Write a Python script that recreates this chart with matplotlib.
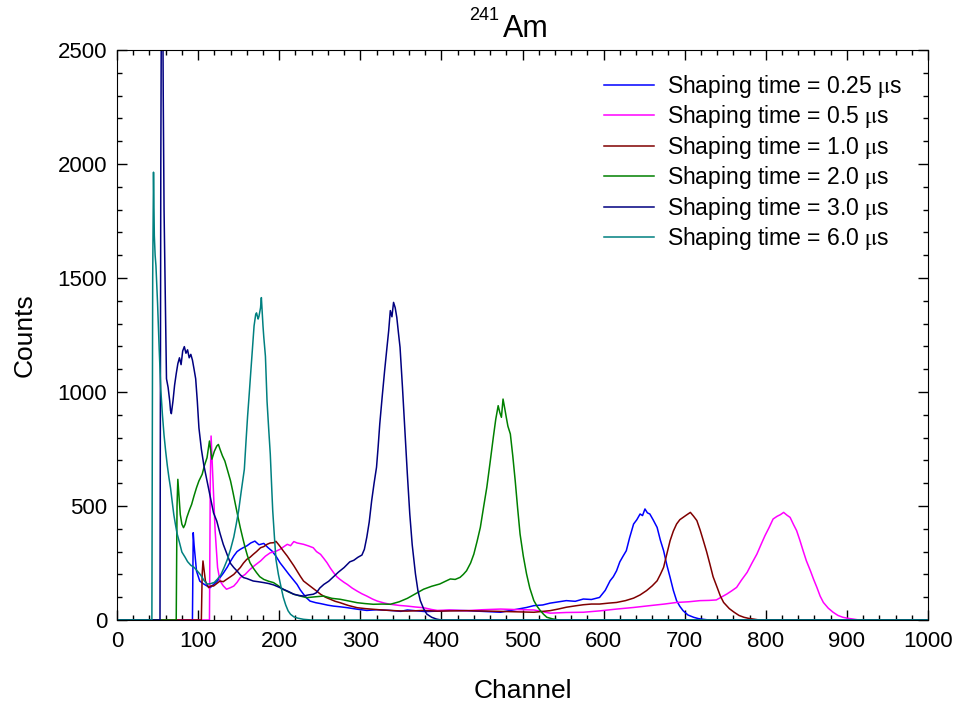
import matplotlib
matplotlib.use("Agg")
import matplotlib.pyplot as plt
from matplotlib.ticker import MultipleLocator

# ----------------------------
# Spectrum data
# ----------------------------

ch_025 = [0, 93, 94, 95, 98, 102, 106, 111, 115, 119, 123, 127, 131, 136, 140, 144, 148, 152, 156, 160,
          165, 170, 175, 181, 186, 191, 196, 201, 206, 212, 217, 222, 226, 230, 234, 238, 245, 251, 260, 267,
          275, 284, 295, 308, 320, 337, 350, 358, 370, 380, 395, 410, 431, 450, 473, 490, 505, 514, 525, 534,
          545, 554, 565, 575, 585, 595, 602, 608, 612, 616, 620, 624, 628, 632, 637, 641, 645, 648, 651, 654,
          657, 661, 666, 670, 674, 678, 682, 686, 690, 694, 698, 704, 711, 717, 723, 730, 1000]
cnt_025 = [0, 0, 383, 330, 215, 171, 160, 149, 142, 156, 168, 186, 205, 232, 258, 281, 300, 310, 318, 325,
           338, 346, 330, 336, 318, 303, 280, 251, 228, 200, 178, 156, 132, 113, 96, 83, 76, 72, 65, 61,
           58, 54, 48, 42, 45, 42, 38, 44, 40, 37, 39, 42, 41, 38, 34, 45, 55, 63, 66, 74,
           80, 85, 82, 92, 90, 99, 130, 172, 190, 216, 255, 280, 304, 360, 421, 440, 465, 458, 487, 470,
           465, 440, 406, 350, 304, 241, 187, 130, 85, 60, 41, 22, 12, 6, 3, 0, 0]

ch_05 = [0, 114, 115, 116, 118, 121, 124, 127, 131, 135, 140, 144, 148, 152, 158, 164, 170, 177, 183, 189,
         195, 201, 205, 210, 214, 218, 222, 226, 230, 236, 242, 246, 251, 255, 259, 263, 267, 271, 275, 280,
         284, 290, 296, 302, 308, 315, 321, 330, 337, 348, 358, 368, 378, 388, 395, 410, 431, 450, 473, 490,
         514, 534, 554, 575, 595, 616, 637, 657, 675, 690, 705, 719, 730, 739, 745, 752, 758, 764, 770, 777,
         783, 789, 794, 799, 804, 809, 814, 818, 822, 826, 830, 834, 838, 842, 846, 850, 855, 859, 863, 867,
         871, 877, 883, 889, 895, 902, 908, 915, 1000]
cnt_05 = [0, 0, 600, 807, 639, 390, 230, 171, 150, 135, 142, 149, 165, 186, 200, 222, 240, 259, 280, 295,
          300, 310, 320, 332, 326, 344, 338, 335, 332, 325, 317, 300, 288, 270, 251, 228, 208, 190, 178, 165,
          156, 140, 127, 115, 105, 92, 83, 74, 69, 64, 61, 57, 54, 46, 42, 44, 41, 45, 48, 46,
          44, 30, 33, 34, 40, 48, 55, 63, 70, 77, 80, 85, 86, 88, 100, 114, 128, 143, 175, 209,
          250, 289, 330, 370, 405, 443, 455, 462, 472, 460, 450, 420, 392, 350, 304, 260, 216, 178, 143, 105,
          77, 52, 34, 20, 12, 7, 4, 0, 0]

ch_10 = [0, 104, 105, 106, 109, 113, 116, 119, 123, 127, 131, 135, 140, 144, 148, 152, 156, 160, 164, 168,
         172, 177, 181, 185, 189, 193, 196, 199, 202, 205, 210, 214, 218, 222, 226, 230, 234, 238, 245, 251,
         257, 263, 269, 275, 285, 296, 306, 316, 327, 337, 348, 358, 378, 395, 431, 470, 514, 534, 544, 554,
         565, 575, 585, 595, 606, 616, 627, 637, 645, 653, 660, 666, 670, 674, 678, 682, 686, 690, 694, 698,
         702, 707, 711, 715, 719, 723, 727, 731, 735, 740, 744, 748, 755, 761, 767, 773, 779, 785, 792, 1000]
cnt_10 = [0, 0, 200, 259, 171, 142, 150, 149, 160, 171, 168, 178, 190, 200, 215, 230, 250, 266, 275, 288,
          300, 317, 322, 332, 338, 339, 345, 332, 318, 303, 280, 259, 238, 215, 192, 171, 160, 149, 130, 113,
          100, 91, 82, 76, 64, 54, 50, 47, 44, 42, 40, 39, 42, 39, 41, 38, 34, 41, 48, 56,
          62, 67, 70, 70, 74, 77, 85, 96, 110, 129, 150, 172, 200, 231, 290, 348, 390, 421, 440, 450,
          460, 472, 455, 436, 395, 348, 300, 246, 190, 143, 105, 77, 50, 34, 20, 12, 7, 4, 0, 0]

ch_20 = [0, 73, 74, 75, 78, 80, 82, 84, 86, 89, 92, 95, 98, 101, 105, 108, 111, 114, 117, 120,
         123, 125, 127, 130, 133, 136, 140, 143, 146, 149, 152, 155, 158, 161, 164, 168, 172, 176, 181, 187,
         193, 199, 205, 212, 218, 226, 234, 245, 255, 265, 275, 285, 296, 306, 316, 327, 337, 348, 358, 368,
         378, 388, 398, 405, 411, 417, 423, 427, 431, 436, 440, 444, 448, 452, 456, 460, 464, 467, 470, 472,
         474, 476, 478, 480, 482, 485, 488, 491, 494, 497, 501, 505, 509, 514, 518, 522, 526, 530, 537, 545,
         1000]
cnt_20 = [0, 0, 500, 617, 463, 420, 405, 420, 449, 480, 507, 545, 580, 610, 639, 680, 712, 785, 705, 740,
          763, 770, 749, 720, 697, 660, 610, 560, 507, 455, 405, 360, 317, 280, 251, 228, 208, 190, 178, 170,
          164, 150, 134, 122, 113, 105, 98, 102, 105, 95, 91, 84, 76, 72, 69, 70, 69, 80, 95, 115,
          135, 148, 158, 170, 180, 178, 187, 200, 216, 250, 289, 345, 406, 495, 582, 690, 801, 880, 940, 910,
          889, 969, 930, 889, 850, 816, 720, 611, 490, 377, 280, 202, 140, 85, 60, 41, 25, 12, 5, 0,
          0]

ch_30 = [0, 53, 54, 55, 56, 57, 58, 60, 61, 63, 65, 66, 67, 69, 71, 73, 75, 77, 79, 81,
         83, 85, 87, 89, 91, 93, 95, 97, 99, 101, 104, 107, 111, 115, 119, 123, 127, 131, 136, 140,
         144, 148, 152, 156, 160, 165, 168, 174, 181, 187, 193, 199, 205, 212, 218, 224, 230, 236, 242, 246,
         250, 255, 261, 267, 273, 280, 287, 292, 297, 302, 305, 308, 311, 314, 317, 320, 322, 324, 327, 330,
         333, 335, 337, 339, 341, 343, 345, 347, 349, 352, 355, 358, 361, 364, 368, 371, 374, 378, 382, 388,
         394, 400, 1000]
cnt_30 = [0, 0, 2000, 3000, 3000, 2300, 1800, 1300, 1058, 1020, 960, 918, 905, 960, 1030, 1080, 1124, 1150, 1120, 1180,
          1199, 1170, 1185, 1150, 1165, 1140, 1100, 1058, 960, 843, 750, 680, 610, 540, 470, 434, 380, 332, 285, 248,
          230, 215, 198, 186, 182, 175, 171, 168, 164, 160, 154, 145, 135, 124, 113, 108, 105, 110, 113, 120,
          140, 156, 170, 190, 210, 230, 255, 262, 275, 285, 310, 363, 430, 523, 600, 670, 760, 860, 980, 1094,
          1200, 1269, 1357, 1330, 1393, 1370, 1327, 1260, 1196, 1020, 830, 640, 465, 330, 202, 130, 85, 50, 26, 12,
          4, 0, 0]

ch_60 = [0, 43, 44, 45, 46, 47, 48, 50, 52, 54, 56, 58, 60, 62, 64, 66, 68, 70, 72, 74,
         77, 80, 84, 87, 91, 95, 99, 103, 107, 111, 116, 120, 124, 128, 132, 136, 140, 144, 147, 150,
         153, 157, 159, 161, 163, 165, 167, 169, 171, 172, 174, 175, 177, 178, 180, 181, 183, 185, 187, 189,
         191, 192, 194, 196, 199, 202, 205, 208, 211, 214, 218, 223, 230, 240, 1000]
cnt_60 = [0, 0, 1500, 1964, 1686, 1600, 1554, 1389, 1190, 1009, 900, 810, 740, 678, 625, 579, 520, 463, 420, 380,
          340, 298, 275, 256, 240, 231, 215, 198, 175, 157, 160, 165, 180, 198, 230, 265, 310, 364, 420, 480,
          560, 661, 780, 893, 990, 1091, 1190, 1290, 1340, 1347, 1320, 1331, 1370, 1414, 1290, 1240, 1157, 959, 840, 727,
          560, 480, 370, 265, 200, 149, 100, 66, 40, 25, 14, 8, 3, 0, 0]

series = [
    (ch_025, cnt_025, "#0000ff", "0.25"),
    (ch_05, cnt_05, "#ff00ff", "0.5"),
    (ch_10, cnt_10, "#800000", "1.0"),
    (ch_20, cnt_20, "#008000", "2.0"),
    (ch_30, cnt_30, "#000080", "3.0"),
    (ch_60, cnt_60, "#008080", "6.0"),
]

# ----------------------------
# Plot
# ----------------------------

plt.rcParams["font.family"] = ["Liberation Sans", "DejaVu Sans"]
plt.rcParams["mathtext.fontset"] = "stix"

fig = plt.figure(figsize=(9.56, 7.06), dpi=100)
ax = fig.add_axes([0.1224, 0.1218, 0.8483, 0.8074])

for ch, cnt, color, t in series:
    ax.plot(ch, cnt, color=color, linewidth=1.1,
            label=r"Shaping time = %s $\mathrm{\mu}$s" % t)

ax.set_xlim(0, 1000)
ax.set_ylim(0, 2500)
ax.xaxis.set_major_locator(MultipleLocator(100))
ax.xaxis.set_minor_locator(MultipleLocator(20))
ax.yaxis.set_major_locator(MultipleLocator(500))
ax.yaxis.set_minor_locator(MultipleLocator(100))
ax.tick_params(which="both", direction="in", top=True, right=True, labelsize=16, width=1)
ax.tick_params(which="major", length=7)
ax.tick_params(which="minor", length=3.5)
ax.tick_params(axis="x", which="major", pad=8)
ax.tick_params(axis="y", which="major", pad=7)

ax.set_xlabel("Channel", fontsize=19, labelpad=19)
ax.set_ylabel("Counts", fontsize=19, labelpad=15)

# title: 241 as a raised small number before Am
fig.text(469 / 956, 1 - 20 / 706, "241", fontsize=13, ha="left", va="baseline")
fig.text(503 / 956, 1 - 37 / 706, "Am", fontsize=22, ha="left", va="baseline")

ax.legend(loc="upper left", bbox_to_anchor=(0.589, 0.976), frameon=False, fontsize=16.5,
          handlelength=2.2, labelspacing=0.15, borderpad=0.4, borderaxespad=0.0,
          handletextpad=0.55)

fig.savefig("out.png", dpi=100)
